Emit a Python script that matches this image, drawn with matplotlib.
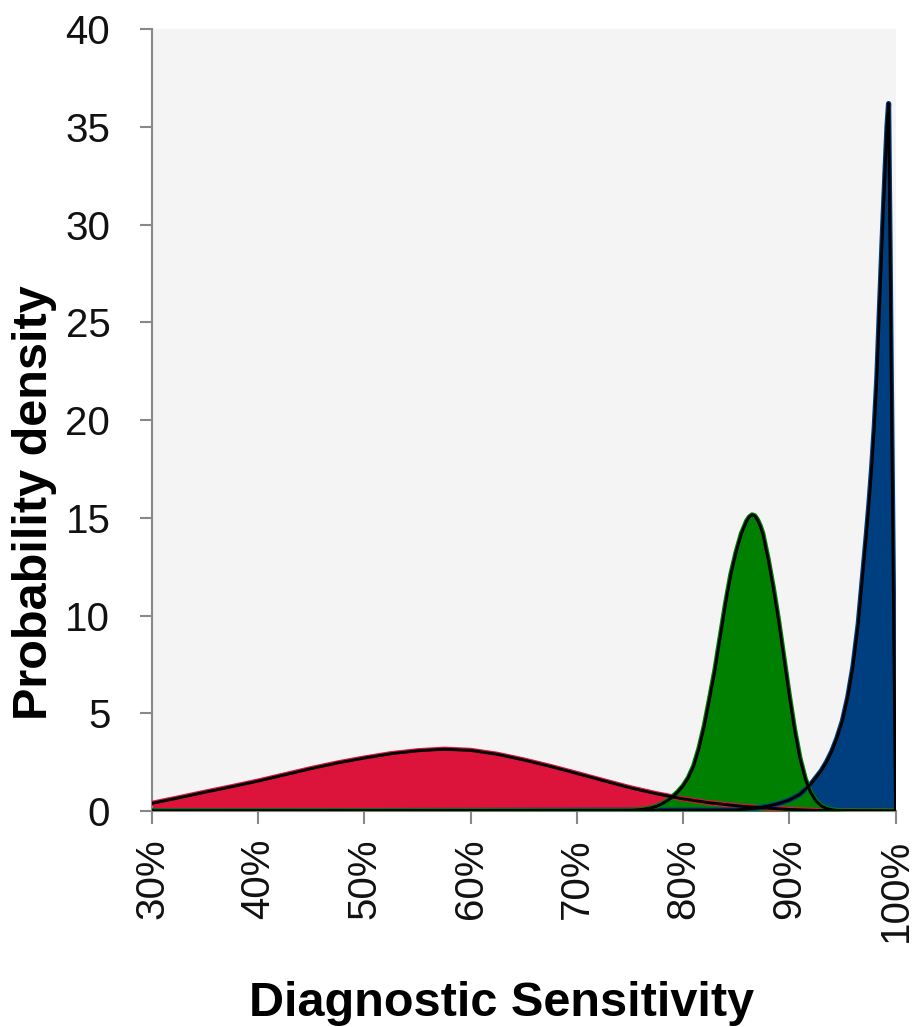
import matplotlib
matplotlib.use('Agg')
import matplotlib.pyplot as plt

plt.rcParams['font.family'] = ['Liberation Sans', 'DejaVu Sans']

# sensitivity (%) and density
red_x = [30, 32.5, 35, 37.5, 40, 42.5, 45, 47.5, 50, 52.5, 55, 57.5, 60, 62.5,
         65, 67.5, 70, 72.5, 75, 77.5, 80, 82.5, 85, 87.5, 90, 92.5, 95, 97.5, 100]
red_y = [0.39, 0.67, 0.96, 1.24, 1.53, 1.85, 2.17, 2.46, 2.71, 2.93, 3.08, 3.16, 3.10, 2.90,
         2.61, 2.28, 1.92, 1.55, 1.19, 0.88, 0.62, 0.42, 0.27, 0.16, 0.08, 0.03, 0.01, 0, 0]

green_x = [30, 75, 75.5, 76, 76.5, 77, 77.5, 78, 78.5, 79, 79.5, 80, 80.5, 81, 81.5, 82,
           82.5, 83, 83.5, 84, 84.5, 85, 85.5, 86, 86.25, 86.5, 86.75, 87, 87.25, 87.5, 88,
           88.5, 89, 89.5, 90, 90.5, 91, 91.5, 92, 92.5, 93, 93.5, 94, 94.5, 95, 95.5, 100]
green_y = [0, 0.02, 0.04, 0.07, 0.11, 0.16, 0.24, 0.36, 0.52, 0.72, 0.97, 1.28, 1.7, 2.3,
           3.2, 4.35, 5.75, 7.2, 8.9, 10.6, 12.1, 13.25, 14.2, 14.85, 15.05, 15.15, 15.1,
           14.9, 14.6, 14.2, 12.9, 11.4, 9.7, 7.8, 5.9, 4.15, 2.7, 1.65, 0.95, 0.52, 0.26,
           0.13, 0.06, 0.03, 0.01, 0, 0]

blue_x = [30, 85, 86, 87, 88, 89, 90, 91, 92, 93, 93.5, 94, 94.5, 95, 95.5, 96, 96.5, 97,
          97.25, 97.5, 97.75, 98, 98.25, 98.5, 98.75, 99, 99.2, 99.35, 100]
blue_y = [0, 0.05, 0.1, 0.15, 0.25, 0.38, 0.56, 0.85, 1.35, 2.05, 2.5, 3.05, 3.75, 4.6, 5.8,
          7.4, 9.6, 12.6, 14.1, 15.7, 17.5, 19.6, 22.2, 25.8, 29.3, 32.5, 35.0, 36.2, 0]

x_ticks = [30, 40, 50, 60, 70, 80, 90, 100]
y_ticks = [0, 5, 10, 15, 20, 25, 30, 35, 40]

red_c = '#DC143C'
green_c = '#008000'
blue_c = '#003F7F'

fig = plt.figure(figsize=(9.15, 10.27), dpi=100)
ax = fig.add_axes([152 / 915, 1 - 811 / 1027, 743.5 / 915, 781.7 / 1027])
ax.set_facecolor('#F4F4F4')

# fills first, outlines on top
ax.fill_between(red_x, red_y, color=red_c, lw=0, zorder=1)
ax.fill_between(blue_x, blue_y, color=blue_c, lw=0, zorder=2)
ax.fill_between(green_x, green_y, color=green_c, lw=0, zorder=3)

for xs, ys, c in [(red_x, red_y, red_c), (blue_x, blue_y, blue_c), (green_x, green_y, green_c)]:
    ax.plot(xs, ys, color=c, lw=3.8, zorder=4, solid_joinstyle='round')
    ax.plot(xs, ys, color='black', lw=2.1, zorder=5, solid_joinstyle='round')

ax.set_xlim(30, 100)
ax.set_ylim(0, 40)
ax.set_xticks(x_ticks)
ax.set_xticklabels([f'{t}%' for t in x_ticks], rotation=90)
ax.set_yticks(y_ticks)

for s in ['top', 'right']:
    ax.spines[s].set_visible(False)
for s in ['left', 'bottom']:
    ax.spines[s].set_color('#888888')
    ax.spines[s].set_linewidth(1.5)

ax.tick_params(axis='both', colors='#888888', labelcolor='#111111', labelsize=29,
               length=9, width=1.5)
ax.tick_params(axis='y', pad=21)
ax.tick_params(axis='x', pad=11)

fig.text(35 / 915, 1 - 503 / 1027, 'Probability density', rotation=90,
         fontsize=35, fontweight='bold', ha='center', va='center')
fig.text(502 / 915, 1 - 1003 / 1027, 'Diagnostic Sensitivity',
         fontsize=35, fontweight='bold', ha='center', va='center')

fig.savefig('out.png', dpi=100)
